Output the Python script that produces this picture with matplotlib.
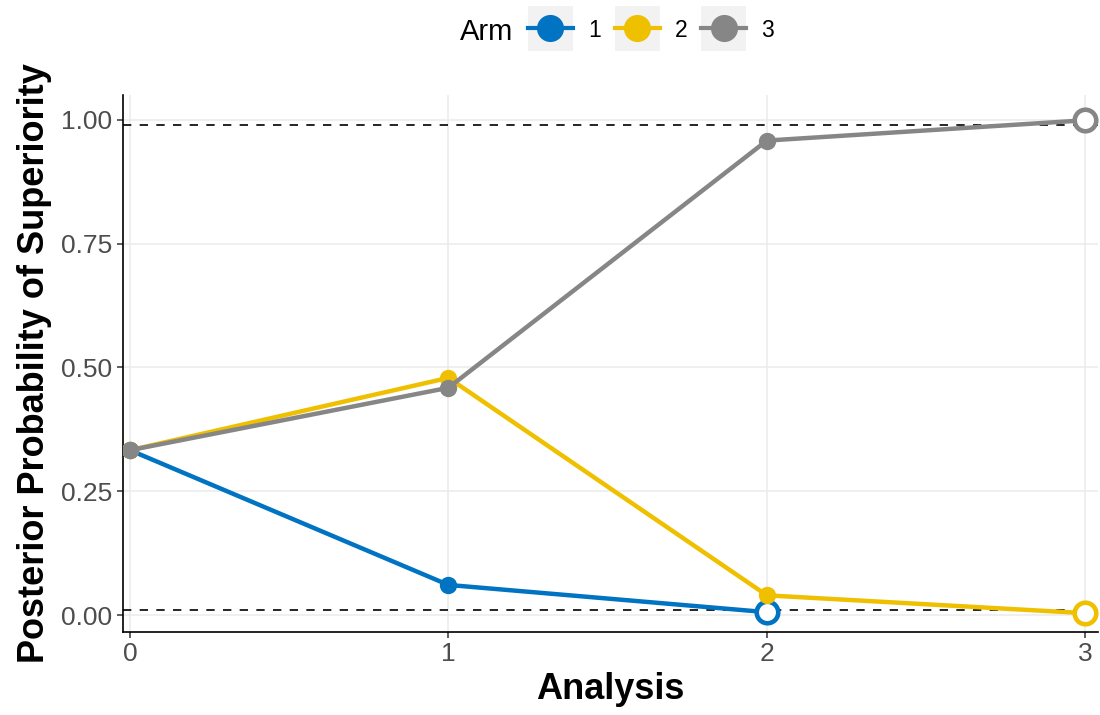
import matplotlib
matplotlib.use("Agg")
import matplotlib.pyplot as plt
from matplotlib.legend_handler import HandlerLine2D
from matplotlib.lines import Line2D
from matplotlib.patches import Rectangle

plt.rcParams['font.family'] = ['Liberation Sans', 'DejaVu Sans']

# posterior probability of superiority per arm at each interim analysis
arms = ['1', '2', '3']
arm_colors = ['#0073C2', '#EFC000', '#868686']
analysis_arm1 = [0, 1, 2]
prob_arm1 = [0.333, 0.061, 0.006]
analysis_arm2 = [0, 1, 2, 3]
prob_arm2 = [0.333, 0.479, 0.040, 0.004]
analysis_arm3 = [0, 1, 2, 3]
prob_arm3 = [0.333, 0.459, 0.958, 0.999]

# decision thresholds (futility / superiority)
thresholds = [0.01, 0.99]

x_ticks = [0, 1, 2, 3]
y_ticks = [0.00, 0.25, 0.50, 0.75, 1.00]


class KeyHandler(HandlerLine2D):
    """Line+point legend key drawn on a grey square, ggplot style."""
    def create_artists(self, legend, orig_handle, xdescent, ydescent,
                       width, height, fontsize, trans):
        pad = (width - height) / 2
        bg = Rectangle((-xdescent, -ydescent - pad), width, width,
                       facecolor='#F2F2F2', edgecolor='none', transform=trans)
        artists = super().create_artists(legend, orig_handle, xdescent, ydescent,
                                         width, height, fontsize, trans)
        return [bg] + artists


fig = plt.figure(figsize=(11, 7.15), dpi=100)
ax = fig.add_axes([123 / 1100, 1 - 632 / 715, (1098 - 123) / 1100, (632 - 95) / 715])

for y in thresholds:
    ax.axhline(y, color='black', linewidth=1.2, dashes=(5, 5), zorder=2)

series = [(analysis_arm1, prob_arm1), (analysis_arm2, prob_arm2), (analysis_arm3, prob_arm3)]
for i, (xs, ys) in enumerate(series):
    c = arm_colors[i]
    z = 3 + i * 3
    ax.plot(xs, ys, color=c, linewidth=3.2, solid_capstyle='butt', zorder=z)
    ax.plot(xs[:-1], ys[:-1], 'o', color=c, markersize=12.5, markeredgewidth=0, zorder=z + 1)
    # last analysis for the arm: open marker
    ax.plot(xs[-1:], ys[-1:], 'o', markerfacecolor='white', markeredgecolor=c,
            markersize=15.5, markeredgewidth=3.3, zorder=z + 2)

ax.set_xlim(-0.022, 3.04)
ax.set_ylim(-0.034, 1.05)
ax.set_xticks(x_ticks)
ax.set_xticklabels([str(v) for v in x_ticks])
ax.set_yticks(y_ticks)
ax.set_yticklabels(['%.2f' % v for v in y_ticks])
ax.grid(True, color='#EBEBEB', linewidth=1.1, zorder=0)
ax.set_axisbelow(True)

for s in ['top', 'right']:
    ax.spines[s].set_visible(False)
for s in ['left', 'bottom']:
    ax.spines[s].set_color('black')
    ax.spines[s].set_linewidth(1.2)

ax.tick_params(axis='both', length=4.5, width=1.1, color='#333333',
               labelsize=19, labelcolor='#4D4D4D', pad=3)

ax.set_xlabel('Analysis', fontsize=26, fontweight='bold', color='black', labelpad=4)
ax.set_ylabel('Posterior Probability of Superiority', fontsize=26,
              fontweight='bold', color='black', labelpad=7)

handles = [Line2D([], [], color=c, linewidth=3.0, marker='o', markersize=19.5,
                  markeredgewidth=0) for c in arm_colors]
leg = fig.legend(handles, arms, loc='center left', ncol=3,
                 bbox_to_anchor=(528 / 1100, 1 - 30 / 715), frameon=False,
                 fontsize=16.5, handlelength=1.96, handleheight=1.0,
                 handletextpad=0.65, columnspacing=0.62, borderpad=0,
                 borderaxespad=0, handler_map={Line2D: KeyHandler()})
fig.text(460 / 1100, 1 - 32 / 715, 'Arm', fontsize=21, ha='left', va='center')

fig.savefig('out.png', dpi=100)
